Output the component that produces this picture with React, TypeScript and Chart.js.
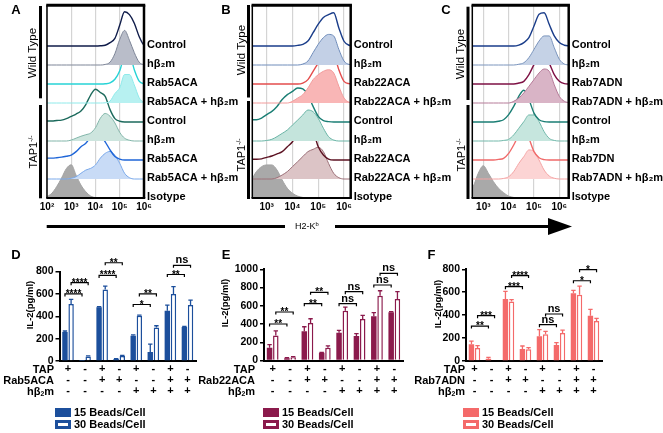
import React, { useEffect, useRef } from 'react';
import { Chart, registerables } from 'chart.js';
Chart.register(...registerables);

const FONT = "'Liberation Sans', Arial, Helvetica, sans-serif";
Chart.defaults.font.family = FONT;
Chart.defaults.color = '#000';

// ---------------- Histogram data (x in log10 units, heights in modal units) ----------------
const LOG_X = [2, 2.2, 2.4, 2.6, 2.8, 3, 3.2, 3.4, 3.6, 3.8, 4, 4.2, 4.4, 4.6, 4.8, 5, 5.2, 5.4, 5.6, 5.8, 6, 6.2, 6.4];
const DECADES = [2, 3, 4, 5, 6];
const SUP: Record<number, string> = { 2: '²', 3: '³', 4: '⁴', 5: '⁵', 6: '⁶' };

const A_WT_CTRL = [0,0,0,0,0,0,0,0,0,0,0,0.01,0.04,0.18,0.4,1.1,1.8,1.65,1.2,0.5,0.05,0,0];
const A_WT_H = [0,0,0,0,0,0,0,0,0,0,0,0,0.03,0.15,0.6,1.35,1.82,1.3,0.65,0.15,0.02,0,0];
const A_WT_R = [0,0,0,0,0,0,0,0,0,0,0,0,0.01,0.06,0.25,0.7,1.5,1.6,0.75,0.15,0.02,0,0];
const A_WT_RH = [0,0,0,0,0,0,0,0,0,0,0,0,0.01,0.1,0.5,0.8,1.5,1.5,0.95,0.28,0.03,0,0];
const A_TAP_CTRL = [0.05,0.05,0.08,0.1,0.18,0.3,0.42,0.58,0.92,1.42,1.72,1.55,1.35,0.65,0.18,0.04,0,0,0,0,0,0,0];
const A_TAP_H = [0,0,0,0,0,0.05,0.15,0.25,0.33,0.42,0.7,1.2,1.45,1.3,0.95,0.45,0.15,0.04,0,0,0,0,0];
const A_TAP_R = [0.1,0.1,0.12,0.15,0.2,0.26,0.44,0.7,0.88,1.23,1.55,1.32,0.96,0.53,0.18,0.05,0,0,0,0,0,0,0];
const A_TAP_RH = [0,0,0,0,0,0.04,0.12,0.3,0.47,0.56,0.74,1.1,1.35,1.45,1.25,0.82,0.3,0.07,0,0,0,0,0];
const A_ISO = [0.07,0.25,0.6,1.05,1.55,1.75,1.2,0.68,0.33,0.1,0.02,0,0,0,0,0,0,0,0,0,0,0,0];

const B_WT_CTRL = [0,0,0,0,0,0,0,0,0,0,0,0.03,0.09,0.26,0.7,1.15,1.5,1.65,1.75,0.95,0.25,0.04,0];
const B_WT_H = [0,0,0,0,0,0,0,0,0,0,0,0,0.05,0.21,0.65,1.09,1.44,1.61,1.53,0.82,0.21,0.03,0];
const B_WT_R = [0,0,0,0,0,0,0,0,0,0,0,0,0.05,0.23,0.67,1.1,1.54,1.8,1.63,0.75,0.14,0.02,0];
const B_WT_RH = [0,0,0,0,0,0,0,0,0,0,0.09,0.26,0.44,0.79,1.23,1.49,1.67,1.75,1.58,0.88,0.26,0.04,0];
const B_TAP_CTRL = [0.08,0.1,0.12,0.12,0.21,0.39,0.56,0.82,1.18,1.44,1.61,1.79,1.74,1.44,0.82,0.3,0.07,0.02,0,0,0,0,0];
const B_TAP_H = [0,0,0,0,0,0.03,0.09,0.23,0.4,0.58,0.84,1.1,1.37,1.63,1.54,1.19,0.67,0.23,0.05,0,0,0,0];
const B_TAP_R = [0.02,0.03,0.04,0.04,0.06,0.14,0.21,0.32,0.44,0.7,0.96,1.4,1.32,1.32,1.4,0.7,0.26,0.05,0,0,0,0,0];
const B_TAP_RH = [0,0,0,0,0,0,0,0.07,0.21,0.39,0.65,0.91,1.18,1.44,1.56,1.67,1.44,0.82,0.3,0.07,0,0,0];
const B_ISO = [0.3,0.6,0.95,1.39,1.65,1.74,1.74,1.47,0.95,0.51,0.25,0.1,0.03,0,0,0,0,0,0,0,0,0,0];

const C_WT_CTRL = [0,0,0,0,0,0,0,0,0,0,0,0,0.05,0.18,0.44,1.05,1.67,1.75,1.14,0.53,0.18,0.04,0];
const C_WT_H = [0,0,0,0,0,0,0,0,0,0,0,0,0.04,0.12,0.39,0.82,1.26,1.53,1.53,0.91,0.3,0.05,0];
const C_WT_R = [0,0,0,0,0,0,0,0,0,0,0,0,0.05,0.14,0.49,1.02,1.46,1.54,1.1,0.49,0.14,0.02,0];
const C_WT_RH = [0,0,0,0,0,0,0,0,0,0,0,0.09,0.26,0.53,0.88,1.23,1.58,1.79,1.67,0.96,0.35,0.09,0.01];
const C_TAP_CTRL = [0,0,0,0,0,0,0,0,0.04,0.12,0.39,0.82,1.35,1.67,1.18,0.47,0.12,0.02,0,0,0,0,0];
const C_TAP_H = [0,0,0,0,0,0,0,0,0,0.03,0.09,0.32,0.67,1.02,1.37,1.37,1.02,0.49,0.14,0.03,0,0,0];
const C_TAP_R = [0,0,0,0,0,0,0,0,0.03,0.09,0.35,0.79,1.32,1.67,1.14,0.44,0.12,0.02,0,0,0,0,0];
const C_TAP_RH = [0,0,0,0,0,0,0,0,0,0.03,0.12,0.39,0.82,1.18,1.53,1.44,1.0,0.47,0.16,0.04,0,0,0];
const C_ISO = [0.02,0.1,0.3,0.6,1.3,1.7,1.3,0.86,0.51,0.28,0.1,0.03,0,0,0,0,0,0,0,0,0,0,0];

const A_LABELS = ['Control', 'hβ₂m', 'Rab5ACA', 'Rab5ACA + hβ₂m', 'Control', 'hβ₂m', 'Rab5ACA', 'Rab5ACA + hβ₂m', 'Isotype'];
const B_LABELS = ['Control', 'hβ₂m', 'Rab22ACA', 'Rab22ACA + hβ₂m', 'Control', 'hβ₂m', 'Rab22ACA', 'Rab22ACA + hβ₂m', 'Isotype'];
const C_LABELS = ['Control', 'hβ₂m', 'Rab7ADN', 'Rab7ADN + hβ₂m', 'Control', 'hβ₂m', 'Rab7DN', 'Rab7ADN + hβ₂m', 'Isotype'];

const A_SERIES = [A_WT_CTRL, A_WT_H, A_WT_R, A_WT_RH, A_TAP_CTRL, A_TAP_H, A_TAP_R, A_TAP_RH, A_ISO];
const B_SERIES = [B_WT_CTRL, B_WT_H, B_WT_R, B_WT_RH, B_TAP_CTRL, B_TAP_H, B_TAP_R, B_TAP_RH, B_ISO];
const C_SERIES = [C_WT_CTRL, C_WT_H, C_WT_R, C_WT_RH, C_TAP_CTRL, C_TAP_H, C_TAP_R, C_TAP_RH, C_ISO];

// styles
const A_LINE = ['#101c4a', '#7d8597', '#27d3d6', '#8eeaea', '#1c6a5c', '#82b5a9', '#1f66d8', '#7aa9ea', '#a3a3a3'];
const A_FILL = [null, '#b9bdc9', null, '#b7f1f1', null, '#cde5de', null, '#c8dbf6', '#a9a9a9'];
const B_LINE = ['#1a3d8a', '#6f8cba', '#e44d4d', '#f29a9a', '#1a7e74', '#6ab4a6', '#5c1222', '#9c7078', '#a3a3a3'];
const B_FILL = [null, '#c3d0e6', null, '#f9b6b6', null, '#c4e4dc', null, '#dcc4c6', '#a9a9a9'];
const C_LINE = ['#1a3d8a', '#7a94bc', '#7e1044', '#b57a98', '#1a7e74', '#72b8aa', '#f06a6a', '#f4a4a4', '#a3a3a3'];
const C_FILL = [null, '#c5d2e6', null, '#d9b4c6', null, '#c6e6de', null, '#fcd4d4', '#a9a9a9'];

// ---------------- Bar chart data ----------------
const TAP_ROW = ['+', '-', '+', '-', '+', '-', '+', '-'];
const RAB_ROW = ['-', '-', '+', '+', '-', '-', '+', '+'];
const HB_ROW = ['-', '-', '-', '-', '+', '+', '+', '+'];
const SERIES_NAMES = ['15 Beads/Cell', '30 Beads/Cell'];

const D_15 = [260, 2, 480, 18, 225, 80, 450, 305];
const D_15_ERR = [8, 0, 5, 3, 8, 70, 50, 5];
const D_30 = [510, 40, 640, 45, 405, 300, 600, 500];
const D_30_ERR = [40, 5, 30, 5, 5, 15, 65, 45];

const E_15 = [140, 25, 320, 85, 305, 270, 485, 530];
const E_15_ERR = [35, 5, 50, 3, 25, 25, 40, 5];
const E_30 = [275, 35, 410, 140, 545, 455, 710, 675];
const E_30_ERR = [50, 8, 48, 20, 40, 40, 55, 80];

const F_15 = [146, 20, 540, 105, 215, 140, 590, 395];
const F_15_ERR = [28, 12, 67, 26, 58, 20, 27, 56];
const F_30 = [113, 0, 518, 102, 233, 244, 578, 349];
const F_30_ERR = [21, 0, 17, 14, 26, 26, 76, 23];

// significance brackets: from group g (series s) to group g+1 (same series)
const BR_GROUP = [0, 0, 2, 2, 4, 4, 6, 6];
const BR_SERIES = [0, 1, 0, 1, 0, 1, 0, 1];
const D_BR_Y = [600, 700, 765, 878, 505, 600, 773, 855];
const D_BR_T = ['****', '****', '****', '**', '*', '**', '**', 'ns'];
const E_BR_Y = [400, 532, 623, 748, 623, 755, 828, 956];
const E_BR_T = ['**', '**', '**', '**', 'ns', 'ns', 'ns', 'ns'];
const F_BR_Y = [305, 395, 648, 745, 317, 410, 700, 797];
const F_BR_T = ['**', '***', '***', '****', 'ns', 'ns', '*', '*'];

// ---------------- Histogram panel ----------------
const HIST_H = 215;
function HistPanel(p: { left: number; width: number; padL: number; padR: number; xmin: number; xmax: number; series: number[][]; labels: string[]; line: string[]; fill: (string | null)[] }) {
  const ref = useRef<HTMLCanvasElement>(null);
  useEffect(() => {
    const n = p.series.length;
    const datasets = p.series.map((vals, i) => {
      const base = n - 1 - i;
      return {
        label: p.labels[i],
        data: LOG_X.map((x, k) => ({ x, y: base + vals[k] })),
        borderColor: p.line[i],
        backgroundColor: p.fill[i] || 'rgba(0,0,0,0)',
        fill: p.fill[i] ? { value: base } : false,
        borderWidth: p.fill[i] ? 1 : 1.4,
        pointRadius: 0,
        cubicInterpolationMode: 'monotone' as const,
      };
    });
    const labelPlugin = {
      id: 'rowLabels',
      afterDraw(chart: any) {
        const { ctx, chartArea, scales } = chart;
        ctx.save();
        ctx.font = `bold 11px ${FONT}`;
        ctx.fillStyle = '#000';
        ctx.textAlign = 'left';
        ctx.textBaseline = 'alphabetic';
        p.labels.forEach((t, i) => {
          const y = scales.y.getPixelForValue(n - 1 - i);
          ctx.fillText(t, chartArea.right + 3, y + 1.5);
        });
        ctx.restore();
      },
    };
    const boxPlugin = {
      id: 'box',
      afterDatasetsDraw(chart: any) {
        const { ctx, chartArea: a } = chart;
        const seg = (x1: number, y1: number, x2: number, y2: number, w: number) => {
          ctx.lineWidth = w;
          ctx.beginPath();
          ctx.moveTo(x1, y1);
          ctx.lineTo(x2, y2);
          ctx.stroke();
        };
        ctx.save();
        ctx.strokeStyle = '#000';
        seg(a.left, a.top, a.left, a.bottom, 1.5);
        seg(a.left - 0.75, a.bottom, a.right + 1.25, a.bottom, 2);
        seg(a.right, a.top, a.right, a.bottom, 2.5);
        seg(a.left - 0.75, a.top, a.right + 1.25, a.top, 3);
        ctx.restore();
      },
    };
    const chart = new Chart(ref.current as HTMLCanvasElement, {
      type: 'line',
      data: { datasets: datasets as any },
      options: {
        animation: false,
        responsive: false,
        maintainAspectRatio: false,
        layout: { padding: { left: p.padL, right: p.padR, top: 5.15, bottom: 0 } },
        plugins: { legend: { display: false }, tooltip: { enabled: false } },
        scales: {
          x: {
            type: 'linear',
            min: p.xmin,
            max: p.xmax,
            afterBuildTicks: (s: any) => {
              s.ticks = DECADES.filter((d) => d >= s.min && d <= s.max).map((v) => ({ value: v }));
            },
            afterFit: (s: any) => {
              s.height = 17;
            },
            grid: { color: '#d4d4d4', lineWidth: 1.2, drawTicks: false },
            border: { display: false },
            ticks: {
              padding: 3,
              autoSkip: false,
              maxRotation: 0,
              color: '#000',
              font: { size: 10, weight: 'bold' },
              callback: (v: any) => '10' + (SUP[v] || ''),
            },
          },
          y: { display: false, min: 0, max: 10.15 },
        },
      } as any,
      plugins: [labelPlugin, boxPlugin],
    });
    return () => chart.destroy();
  }, []);
  return (
    <canvas
      ref={ref}
      width={p.width}
      height={HIST_H}
      style={{ position: 'absolute', left: p.left, top: 0, width: p.width, height: HIST_H }}
    />
  );
}

// ---------------- Bar panel ----------------
const BAR_TOP = 240;
const BAR_H = 193;
function BarPanel(p: {
  left: number; width: number; padTop: number; padR: number; yw: number; xh: number; ymax: number;
  rab: string[]; v15: number[]; e15: number[]; v30: number[]; e30: number[]; color: string; brY: number[]; brT: string[];
}) {
  const ref = useRef<HTMLCanvasElement>(null);
  useEffect(() => {
    const errs = [p.e15, p.e30];
    const vals = [p.v15, p.v30];
    const errPlugin = {
      id: 'errbars',
      afterDatasetsDraw(chart: any) {
        const { ctx } = chart;
        const ys = chart.scales.y;
        ctx.save();
        ctx.strokeStyle = p.color;
        ctx.lineWidth = 1.3;
        [0, 1].forEach((di) => {
          const meta = chart.getDatasetMeta(di);
          meta.data.forEach((bar: any, j: number) => {
            const e = errs[di][j];
            if (!e) return;
            const top = ys.getPixelForValue(vals[di][j] + e);
            const bt = ys.getPixelForValue(vals[di][j]);
            ctx.beginPath();
            ctx.moveTo(bar.x, bt);
            ctx.lineTo(bar.x, top);
            ctx.moveTo(bar.x - 2.2, top);
            ctx.lineTo(bar.x + 2.2, top);
            ctx.stroke();
          });
        });
        ctx.restore();
      },
    };
    const bracketPlugin = {
      id: 'brackets',
      afterDraw(chart: any) {
        const { ctx } = chart;
        const ys = chart.scales.y;
        ctx.save();
        ctx.strokeStyle = '#000';
        ctx.fillStyle = '#000';
        ctx.lineWidth = 1.2;
        ctx.textAlign = 'center';
        ctx.textBaseline = 'alphabetic';
        p.brY.forEach((v, k) => {
          const meta = chart.getDatasetMeta(BR_SERIES[k]);
          const x1 = meta.data[BR_GROUP[k]].x;
          const x2 = meta.data[BR_GROUP[k] + 1].x;
          const y = ys.getPixelForValue(v);
          ctx.beginPath();
          ctx.moveTo(x1, y + 2.5);
          ctx.lineTo(x1, y);
          ctx.lineTo(x2, y);
          ctx.lineTo(x2, y + 2.5);
          ctx.stroke();
          const t = p.brT[k];
          if (t === 'ns') {
            ctx.font = `bold 11px ${FONT}`;
            ctx.fillText(t, (x1 + x2) / 2, y - 2);
          } else {
            ctx.font = `bold 10px ${FONT}`;
            ctx.fillText(t, (x1 + x2) / 2, y + 3);
          }
        });
        ctx.restore();
      },
    };
    const chart = new Chart(ref.current as HTMLCanvasElement, {
      type: 'bar',
      data: {
        labels: TAP_ROW.map((t, i) => [t, p.rab[i], HB_ROW[i]]),
        datasets: [
          {
            label: SERIES_NAMES[0],
            data: p.v15,
            backgroundColor: p.color,
            borderColor: p.color,
            borderWidth: 0,
            categoryPercentage: 0.72,
            barPercentage: 0.88,
          },
          {
            label: SERIES_NAMES[1],
            data: p.v30,
            backgroundColor: '#ffffff',
            borderColor: p.color,
            borderWidth: 1.5,
            categoryPercentage: 0.72,
            barPercentage: 0.88,
          },
        ],
      },
      options: {
        animation: false,
        responsive: false,
        maintainAspectRatio: false,
        layout: { padding: { left: 0, right: p.padR, top: p.padTop, bottom: 0 } },
        plugins: { legend: { display: false }, tooltip: { enabled: false } },
        scales: {
          x: {
            type: 'category',
            offset: true,
            grid: { display: false, drawTicks: false },
            border: { display: true, color: '#000', width: 2 },
            ticks: {
              padding: 2.5,
              autoSkip: false,
              maxRotation: 0,
              color: '#000',
              font: { size: 11, weight: 'bold', lineHeight: 1 },
            },
            afterFit: (s: any) => {
              s.height = p.xh;
            },
          },
          y: {
            min: 0,
            max: p.ymax,
            ticks: {
              stepSize: 200,
              color: '#000',
              padding: 2,
              font: { size: 10.5, weight: 'bold' },
              callback: (v: any) => String(v),
            },
            grid: { display: true, drawOnChartArea: false, drawTicks: true, tickLength: 4, tickColor: '#000', lineWidth: 1.5, color: '#000' },
            border: { display: true, color: '#000', width: 2 },
            afterFit: (s: any) => {
              s.width = p.yw;
            },
          },
        },
      } as any,
      plugins: [errPlugin, bracketPlugin],
    });
    return () => chart.destroy();
  }, []);
  return (
    <canvas
      ref={ref}
      width={p.width}
      height={BAR_H}
      style={{ position: 'absolute', left: p.left, top: BAR_TOP, width: p.width, height: BAR_H }}
    />
  );
}

// ---------------- Text helpers ----------------
const HB = (
  <span>
    hβ<sub style={{ fontSize: '0.62em', verticalAlign: '-0.2em', lineHeight: 0 }}>2</sub>m
  </span>
);

function CText(p: { x: number; y: number; size: number; bold?: boolean; rotate?: boolean; children: any }) {
  return (
    <div
      style={{
        position: 'absolute',
        left: p.x,
        top: p.y,
        transform: `translate(-50%,-50%)${p.rotate ? ' rotate(-90deg)' : ''}`,
        whiteSpace: 'nowrap',
        fontSize: p.size,
        fontWeight: p.bold ? 'bold' : 'normal',
        lineHeight: `${p.size + 2}px`,
        color: '#000',
      }}
    >
      {p.children}
    </div>
  );
}

function RText(p: { x: number; y: number; children: any }) {
  return (
    <div
      style={{
        position: 'absolute',
        left: p.x,
        top: p.y,
        transform: 'translate(-100%,-50%)',
        whiteSpace: 'nowrap',
        fontSize: 11,
        fontWeight: 'bold',
        lineHeight: '12px',
      }}
    >
      {p.children}
    </div>
  );
}

function Legend(p: { x: number; color: string }) {
  return (
    <>
      <div style={{ position: 'absolute', left: p.x, top: 408, width: 16, height: 9, background: p.color }} />
      <div
        style={{
          position: 'absolute', left: p.x, top: 419.5, width: 16, height: 9, background: '#fff',
          border: `3px solid ${p.color}`, boxSizing: 'border-box',
        }}
      />
      <div style={{ position: 'absolute', left: p.x + 19, top: 406, fontSize: 11, fontWeight: 'bold', lineHeight: '13px', whiteSpace: 'nowrap' }}>
        {SERIES_NAMES[0]}
      </div>
      <div style={{ position: 'absolute', left: p.x + 19, top: 417.5, fontSize: 11, fontWeight: 'bold', lineHeight: '13px', whiteSpace: 'nowrap' }}>
        {SERIES_NAMES[1]}
      </div>
    </>
  );
}

const TAP_LABEL = (
  <span>
    TAP1<sup style={{ fontSize: '0.6em', verticalAlign: '0.5em', lineHeight: 0 }}>-/-</sup>
  </span>
);

export default function App() {
  return (
    <div
      style={{
        position: 'fixed', left: 0, top: 0, width: 663, height: 433, background: '#fff',
        overflow: 'hidden', fontFamily: FONT, color: '#000',
      }}
    >
      <HistPanel left={0} width={240} padL={47} padR={96} xmin={2} xmax={6} series={A_SERIES} labels={A_LABELS} line={A_LINE} fill={A_FILL} />
      <HistPanel left={230} width={230} padL={22.3} padR={109.3} xmin={2.44} xmax={6.26} series={B_SERIES} labels={B_LABELS} line={B_LINE} fill={B_FILL} />
      <HistPanel left={450} width={213} padL={22.3} padR={94.3} xmin={2.565} xmax={6.37} series={C_SERIES} labels={C_LABELS} line={C_LINE} fill={C_FILL} />

      <BarPanel left={0} width={215} padTop={31.5} padR={19} yw={59.5} xh={72} ymax={800} rab={RAB_ROW}
        v15={D_15} e15={D_15_ERR} v30={D_30} e30={D_30_ERR} color="#1c4f9c" brY={D_BR_Y} brT={D_BR_T} />
      <BarPanel left={215} width={215} padTop={29.3} padR={27} yw={49} xh={72.5} ymax={1000} rab={RAB_ROW}
        v15={E_15} e15={E_15_ERR} v30={E_30} e30={E_30_ERR} color="#8b1a4c" brY={E_BR_Y} brT={E_BR_T} />
      <BarPanel left={430} width={233} padTop={29.3} padR={61} yw={36} xh={72} ymax={800} rab={RAB_ROW}
        v15={F_15} e15={F_15_ERR} v30={F_30} e30={F_30_ERR} color="#f46a6a" brY={F_BR_Y} brT={F_BR_T} />

      <svg width={663} height={433} style={{ position: 'absolute', left: 0, top: 0, pointerEvents: 'none' }}>
        <rect x={39} y={6} width={3} height={92.3} fill="#000" />
        <rect x={39} y={105} width={3} height={93.3} fill="#000" />
        <rect x={247} y={5} width={3} height={92.5} fill="#000" />
        <rect x={247} y={101} width={3} height={98} fill="#000" />
        <rect x={466.5} y={6.7} width={3} height={93.3} fill="#000" />
        <rect x={466.5} y={105} width={3} height={94} fill="#000" />
        <rect x={46.7} y={225} width={238.3} height={3} fill="#000" />
        <rect x={335} y={225} width={215} height={3} fill="#000" />
        <polygon points="548,218 572,226.5 548,235" fill="#000" />
      </svg>

      <CText x={16} y={9} size={13} bold>A</CText>
      <CText x={226} y={9} size={13} bold>B</CText>
      <CText x={446} y={9} size={13} bold>C</CText>
      <CText x={16} y={254} size={13} bold>D</CText>
      <CText x={226} y={254} size={13} bold>E</CText>
      <CText x={431.5} y={254} size={13} bold>F</CText>

      <CText x={33} y={53} size={11.5} rotate>Wild Type</CText>
      <CText x={33} y={152} size={11} rotate>{TAP_LABEL}</CText>
      <CText x={242} y={50} size={11.5} rotate>Wild Type</CText>
      <CText x={241} y={155} size={11} rotate>{TAP_LABEL}</CText>
      <CText x={461} y={54} size={11.5} rotate>Wild Type</CText>
      <CText x={461} y={155} size={11} rotate>{TAP_LABEL}</CText>

      <div style={{ position: 'absolute', left: 295, top: 220, fontSize: 9, lineHeight: '12px', whiteSpace: 'nowrap' }}>
        H2-K<sup style={{ fontSize: '0.65em', verticalAlign: '0.45em', lineHeight: 0 }}>b</sup>
      </div>

      <CText x={30} y={305} size={9.5} bold rotate>IL-2(pg/ml)</CText>
      <CText x={224.5} y={303} size={9.5} bold rotate>IL-2(pg/ml)</CText>
      <CText x={437.5} y={304} size={9.5} bold rotate>IL-2(pg/ml)</CText>

      <RText x={54} y={369}>TAP</RText>
      <RText x={54} y={380}>Rab5ACA</RText>
      <RText x={54} y={391}>{HB}</RText>
      <RText x={255} y={369}>TAP</RText>
      <RText x={255} y={380}>Rab22ACA</RText>
      <RText x={255} y={391}>{HB}</RText>
      <RText x={465} y={369}>TAP</RText>
      <RText x={465} y={380}>Rab7ADN</RText>
      <RText x={465} y={391}>{HB}</RText>

      <Legend x={55} color="#1c4f9c" />
      <Legend x={263} color="#8b1a4c" />
      <Legend x={463} color="#f46a6a" />
    </div>
  );
}
